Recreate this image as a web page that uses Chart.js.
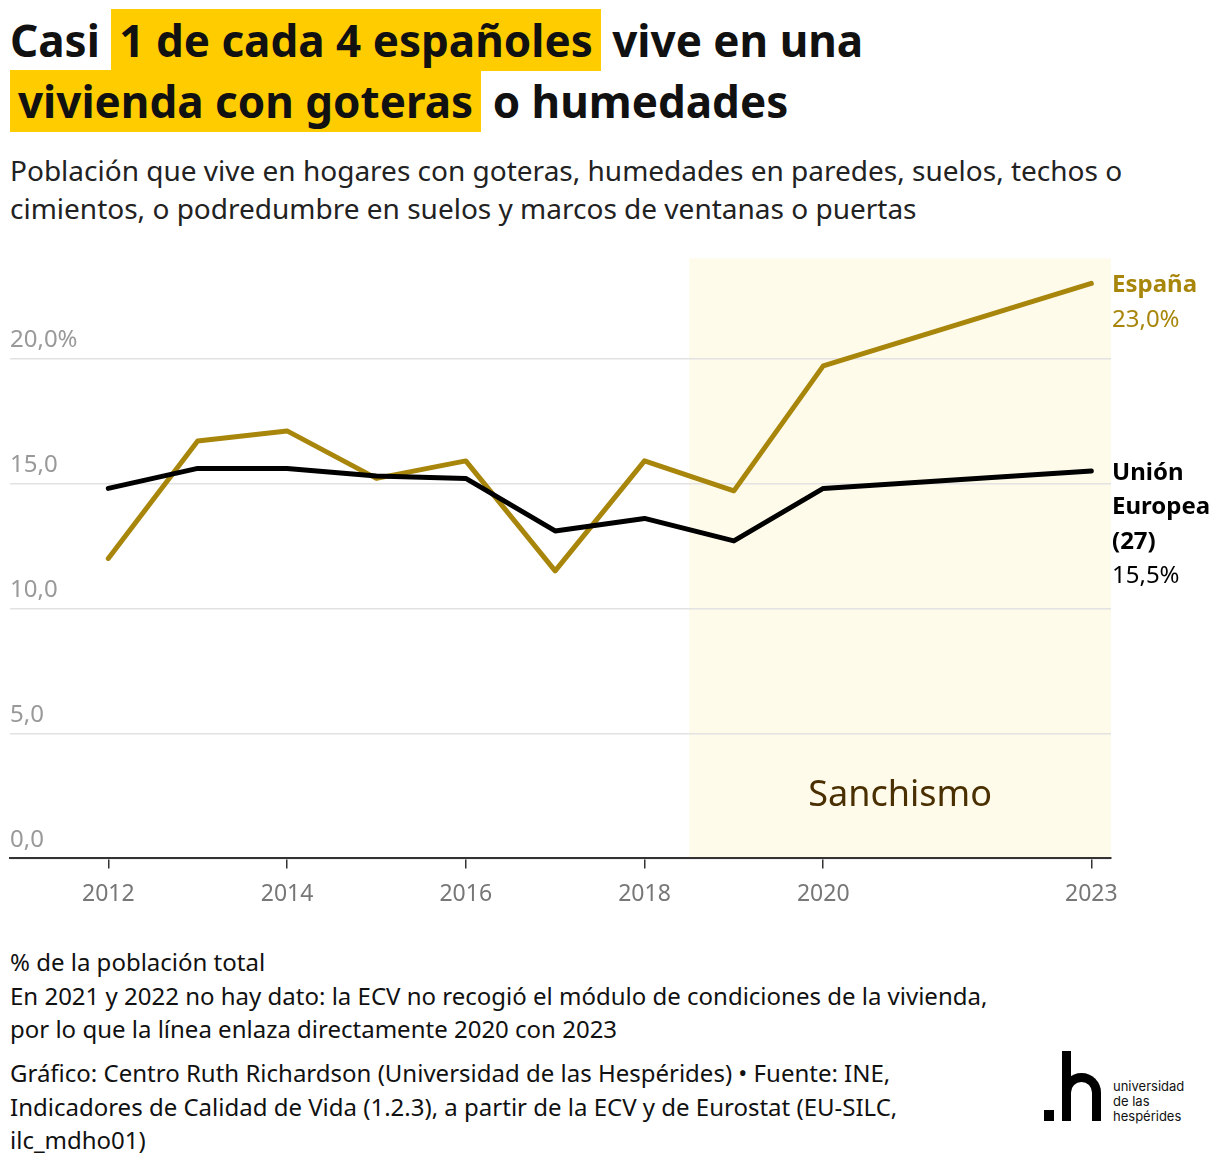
<!DOCTYPE html>
<html>
<head>
<meta charset="utf-8">
<script src="https://cdn.jsdelivr.net/npm/chart.js@4/dist/chart.umd.min.js"></script>
<style>
  body { margin: 0; background: #fff; font-family: "Noto Sans", sans-serif; color: #111; }
  #page { position: relative; width: 1220px; height: 1168px; overflow: hidden; }
  h1 { position: absolute; left: 10px; top: 10px; margin: 0; font-size: 44px; line-height: 61px; font-weight: 700; }
  h1 .hl { background: #ffcc00; padding: 1px 8px; }
  .sub { position: absolute; left: 10px; top: 151px; font-size: 28px; line-height: 38px; color: #222; }
  #wrap { position: absolute; left: 0; top: 244px; width: 1220px; height: 676px; }
  .notes { position: absolute; left: 10px; top: 945px; font-size: 24px; line-height: 33.5px; color: #111; }
  .src { position: absolute; left: 10px; top: 1056px; font-size: 24px; line-height: 33.5px; color: #111; }
  .logo-dot { position: absolute; left: 1044px; top: 1110px; width: 10px; height: 11px; background: #000; }
  .logo-stem { position: absolute; left: 1062px; top: 1051px; width: 9px; height: 70px; background: #000; }
  .logo-arch { position: absolute; left: 1062px; top: 1073px; width: 39px; height: 48px; box-sizing: border-box;
               border: 9px solid #000; border-bottom: 0; border-radius: 20px 20px 0 0; }
  .logo-t { position: absolute; left: 1113px; top: 1079px; font-size: 13px; line-height: 15px; font-family: "Inter", sans-serif; color: #111; }
</style>
</head>
<body>
<div id="page">
  <h1>Casi <span class="hl">1 de cada 4 españoles</span> vive en una<br><span class="hl">vivienda con goteras</span> o humedades</h1>
  <div class="sub">Población que vive en hogares con goteras, humedades en paredes, suelos, techos o<br>cimientos, o podredumbre en suelos y marcos de ventanas o puertas</div>
  <div id="wrap"><canvas id="chart"></canvas></div>
  <div class="notes">% de la población total<br>En 2021 y 2022 no hay dato: la ECV no recogió el módulo de condiciones de la vivienda,<br>por lo que la línea enlaza directamente 2020 con 2023</div>
  <div class="src">Gráfico: Centro Ruth Richardson (Universidad de las Hespérides) • Fuente: INE,<br>Indicadores de Calidad de Vida (1.2.3), a partir de la ECV y de Eurostat (EU-SILC,<br>ilc_mdho01)</div>
  <div class="logo-dot"></div>
  <div class="logo-stem"></div>
  <div class="logo-arch"></div>
  <div class="logo-t">universidad<br>de las<br>hespérides</div>
</div>
<script>
const years = [2012, 2013, 2014, 2015, 2016, 2017, 2018, 2019, 2020, 2023];
const espana = [12.0, 16.7, 17.1, 15.2, 15.9, 11.5, 15.9, 14.7, 19.7, 23.0];
const ue27 = [14.8, 15.6, 15.6, 15.3, 15.2, 13.1, 13.6, 12.7, 14.8, 15.5];
const xTicks = [2012, 2014, 2016, 2018, 2020, 2023];
const yTicks = [0, 5, 10, 15, 20];
const sanchismoStart = 2018.5;

const gold = "#a8860b";

const fmt = v => v.toFixed(1).replace(".", ",");

// franja "Sanchismo" detrás de la rejilla
const bandPlugin = {
  id: "band",
  beforeDraw(chart) {
    const { ctx, chartArea, scales } = chart;
    const x0 = scales.x.getPixelForValue(sanchismoStart);
    ctx.save();
    ctx.fillStyle = "#fffbeb";
    ctx.fillRect(x0, chartArea.top, chartArea.right - x0, chartArea.bottom - chartArea.top);
    ctx.fillStyle = "#4a2f00";
    ctx.font = "36px 'Noto Sans'";
    ctx.textAlign = "center";
    ctx.textBaseline = "middle";
    ctx.fillText("Sanchismo", (x0 + chartArea.right) / 2, scales.y.getPixelForValue(2.5));
    ctx.restore();
  }
};

const labelPlugin = {
  id: "endLabels",
  afterDatasetsDraw(chart) {
    const { ctx, chartArea, scales } = chart;
    const x = chartArea.right + 1;
    const last = espana.length - 1;
    ctx.save();
    ctx.textAlign = "left";
    ctx.textBaseline = "middle";
    let y = scales.y.getPixelForValue(espana[last]) + 2;
    ctx.fillStyle = gold;
    ctx.font = "bold 24px 'Noto Sans'";
    ctx.fillText("España", x, y);
    ctx.font = "24px 'Noto Sans'";
    ctx.fillText(fmt(espana[last]) + "%", x, y + 35);
    y = scales.y.getPixelForValue(ue27[last]) + 2;
    ctx.fillStyle = "#000";
    ctx.font = "bold 24px 'Noto Sans'";
    ["Unión", "Europea", "(27)"].forEach((t, i) => ctx.fillText(t, x, y + i * 34.5));
    ctx.font = "24px 'Noto Sans'";
    ctx.fillText(fmt(ue27[last]) + "%", x, y + 103);
    ctx.restore();
  }
};

new Chart(document.getElementById("chart"), {
  type: "line",
  data: {
    datasets: [
      {
        label: "Unión Europea (27)",
        data: years.map((y, i) => ({ x: y, y: ue27[i] })),
        borderColor: "#000",
        borderWidth: 5,
        pointRadius: 0,
        borderCapStyle: "round",
        borderJoinStyle: "round",
        order: 0
      },
      {
        label: "España",
        data: years.map((y, i) => ({ x: y, y: espana[i] })),
        borderColor: gold,
        borderWidth: 5,
        pointRadius: 0,
        borderCapStyle: "round",
        borderJoinStyle: "round",
        order: 1
      }
    ]
  },
  options: {
    responsive: true,
    maintainAspectRatio: false,
    animation: false,
    layout: { padding: { left: 10, right: 109, top: 0, bottom: 0 } },
    plugins: { legend: { display: false }, tooltip: { enabled: false } },
    scales: {
      x: {
        type: "linear",
        min: 2010.9,
        max: 2023.22,
        afterBuildTicks: s => { s.ticks = xTicks.map(v => ({ value: v })); },
        grid: { drawOnChartArea: false, tickLength: 10, color: "#333", lineWidth: 1.5 },
        border: { color: "#333", width: 2 },
        ticks: {
          padding: 12,
          color: "#777",
          font: { size: 23, family: "Noto Sans" },
          callback: v => String(v)
        }
      },
      y: {
        min: 0,
        max: 24,
        afterBuildTicks: s => { s.ticks = yTicks.map(v => ({ value: v })); },
        border: { display: false },
        grid: { color: "#e2e2e2", lineWidth: 1.5, drawTicks: false },
        ticks: {
          mirror: true,
          padding: 0,
          labelOffset: -18,
          color: "#999",
          font: { size: 24, family: "Noto Sans" },
          callback: v => v === 20 ? fmt(v) + "%" : fmt(v)
        }
      }
    }
  },
  plugins: [bandPlugin, labelPlugin]
});
</script>
</body>
</html>
